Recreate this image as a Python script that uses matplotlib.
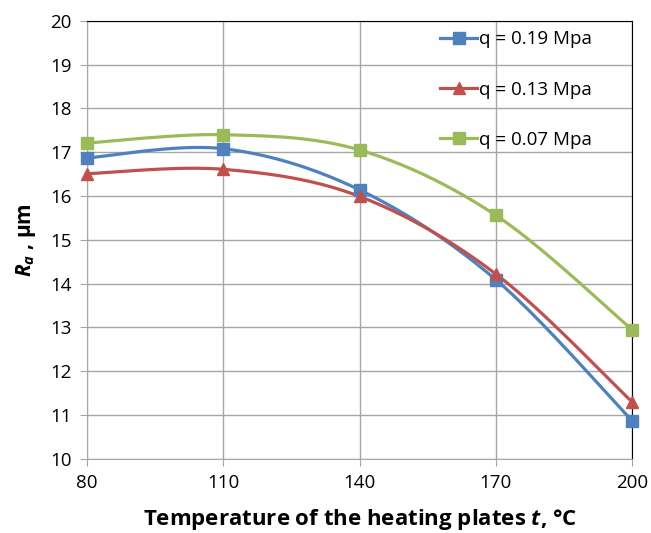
import numpy as np
import matplotlib
matplotlib.use("Agg")
import matplotlib.pyplot as plt

plt.rcParams['font.family'] = ['Open Sans', 'DejaVu Sans']
plt.rcParams['mathtext.fontset'] = 'custom'
plt.rcParams['mathtext.rm'] = 'Open Sans'
plt.rcParams['mathtext.it'] = 'Open Sans:italic'
plt.rcParams['mathtext.bf'] = 'Open Sans:bold'
plt.rcParams['mathtext.bfit'] = 'Open Sans:italic:bold'

temps = [80, 110, 140, 170, 200]
ra_019 = [16.87, 17.08, 16.14, 14.09, 10.87]
ra_013 = [16.51, 16.61, 15.99, 14.22, 11.30]
ra_007 = [17.21, 17.40, 17.05, 15.56, 12.95]
labels = ['q = 0.19 Mpa', 'q = 0.13 Mpa', 'q = 0.07 Mpa']
colors = ['#4F81BD', '#C0504D', '#9BBB59']
markers = ['s', '^', 's']


def smooth(x, y, n=40):
    # excel-style smoothed line (cardinal bezier)
    x = np.asarray(x, float)
    y = np.asarray(y, float)
    p = np.column_stack([x, y])
    out = []
    t = np.linspace(0, 1, n)[:, None]
    for i in range(len(p) - 1):
        p0 = p[max(i - 1, 0)]
        p1 = p[i]
        p2 = p[i + 1]
        p3 = p[min(i + 2, len(p) - 1)]
        c1 = p1 + (p2 - p0) / 6
        c2 = p2 - (p3 - p1) / 6
        seg = ((1 - t) ** 3) * p1 + 3 * ((1 - t) ** 2) * t * c1 + 3 * (1 - t) * t ** 2 * c2 + t ** 3 * p2
        out.append(seg if i == 0 else seg[1:])
    s = np.vstack(out)
    return s[:, 0], s[:, 1]


fig = plt.figure(figsize=(6.51, 5.33), dpi=100)
ax = fig.add_axes([0.134, 0.139, 0.837, 0.822])

for ys, lab, c, m in zip([ra_019, ra_013, ra_007], labels, colors, markers):
    sx, sy = smooth(temps, ys)
    ax.plot(sx, sy, color=c, lw=2.3, clip_on=False, zorder=3)
    ax.plot(temps, ys, ls='none', marker=m, ms=8.5, color=c, clip_on=False, zorder=4)
    ax.plot([], [], color=c, lw=2.3, marker=m, ms=8.5, label=lab)

ax.set_xlim(80, 200)
ax.set_ylim(10, 20)
ax.set_xticks(temps)
ax.set_yticks(range(10, 21))
ax.grid(True, color='#A6A6A6', lw=1)
ax.set_axisbelow(True)
for s in ['left', 'bottom']:
    ax.spines[s].set_color('#A6A6A6')
for s in ['top', 'right']:
    ax.spines[s].set_color('black')
ax.tick_params(axis='both', direction='out', length=5, color='#A6A6A6', labelsize=13.5, pad=6)

ax.set_xlabel(r'Temperature of the heating plates $\mathbfit{t}$, °C', fontsize=16, fontweight='bold', labelpad=11)
ax.set_ylabel(r'$\mathbfit{R}_{\mathbfit{a}}$ , µm', fontsize=15, fontweight='bold', labelpad=9)

ax.legend(loc='upper left', bbox_to_anchor=(0.648, 0.978), frameon=False, fontsize=13.5,
          borderaxespad=0, borderpad=0, labelspacing=1.72, handlelength=1.95, handletextpad=0.12)

fig.savefig('out.png', dpi=100)
